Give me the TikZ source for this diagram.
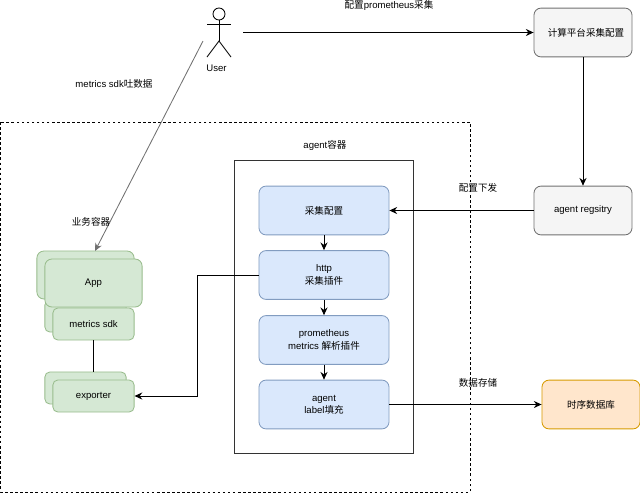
\documentclass[tikz,border=0pt]{standalone}
\usepackage{fontspec}
\setmainfont{Liberation Sans}
\newfontfamily\cjk{Noto Sans CJK SC}
\newcommand{\cn}[1]{{\cjk #1}}
\usetikzlibrary{arrows.meta}
\definecolor{bluefill}{HTML}{DAE8FC}
\definecolor{blueline}{HTML}{829CC0}
\definecolor{greenfill}{HTML}{D5E8D4}
\definecolor{greenline}{HTML}{98BC8C}
\definecolor{greyfill}{HTML}{F5F5F5}
\definecolor{greyline}{HTML}{707070}
\definecolor{orangefill}{HTML}{FFE6CC}
\definecolor{orangeline}{HTML}{D79B00}
\tikzset{
	every node/.style={font=\fontsize{6.8}{8.8}\selectfont,align=center,inner sep=0pt},
	box/.style={draw,rounded corners=5pt,line width=.6pt,minimum width=3.25cm,minimum height=1.22cm},
	blue box/.style={box,fill=bluefill,draw=blueline},
	grey box/.style={box,fill=greyfill,draw=greyline,minimum width=2.45cm},
	orange box/.style={box,fill=orangefill,draw=orangeline,minimum width=2.45cm},
	app box/.style={box,fill=greenfill,draw=greenline,minimum width=2.43cm,minimum height=1.2cm},
	sdk box/.style={box,fill=greenfill,draw=greenline,rounded corners=3.5pt,minimum width=2.03cm,minimum height=.8cm},
	link/.style={line width=.6pt,-{Stealth[length=5.5pt,width=5pt]}}
}
\begin{document}
\begin{tikzpicture}[x=0.025cm,y=-0.025cm]
	\useasboundingbox (0,0) rectangle (640,494);
	
	\draw[dash pattern=on 1.8pt off 1.8pt,line width=.5pt] (0.5,122) rectangle (470,492);
	\node[draw=black!80,line width=.7pt,minimum width=4.45cm,minimum height=7.3cm] (Agent) at (324,307) {};
	
	% user
	\node[circle,draw,line width=.6pt,minimum size=.3cm] (Head) at (219,14) {};
	\coordinate (Neck) at (219,41);
	\coordinate (ArmL) at (207,24.5);
	\coordinate (ArmR) at (231,24.5);
	\coordinate (LegL) at (207,57);
	\coordinate (LegR) at (231,57);
	\draw[line width=.6pt] (Head) -- (Neck);
	\draw[line width=.6pt] (ArmL) -- (ArmR);
	\draw[line width=.6pt] (LegL) -- (Neck) -- (LegR);
	\node (User) at (216.5,68) {User};
	\coordinate (UserOut) at (243,32.5);
	\coordinate (UserApp) at (203,41);
	
	% right side
	\node[grey box] (Conf) at (583,32.5) {\hspace{.15cm}\cn{计算平台采集配置}};
	\node[grey box] (Reg) at (583,210.5) {agent regsitry};
	\node[orange box] (DB) at (591,404.5) {\cn{时序数据库}};
	
	% agent plugins
	\node[blue box] (P1) at (324,210.5) {\cn{采集配置}};
	\node[blue box] (P2) at (324,275) {http\\\cn{采集插件}};
	\node[blue box] (P3) at (324,340) {prometheus\\metrics \cn{解析插件}};
	\node[blue box] (P4) at (324,404.5) {agent\\label\cn{填充}};
	
	% business container
	\node[app box] (AppB) at (85.5,275) {};
	\node[sdk box] (SdkB) at (85.5,316) {};
	\node[sdk box] (SdkF) at (93.5,324) {metrics sdk};
	\node[app box] (AppF) at (93.5,283) {App};
	\node[sdk box] (ExpB) at (85.5,388) {};
	\node[sdk box] (ExpF) at (93.5,396) {exporter};
	
	\draw[link] (UserOut) -- (Conf);
	\draw[link,draw=greyline] (UserApp) -- (95,251);
	\draw[link] (Conf) -- (Reg);
	\draw[link] (Reg) -- (P1);
	\draw[link] (P1) -- (P2);
	\draw[link] (P2) -- (P3);
	\draw[link] (P3) -- (P4);
	\draw[link] (P4) -- (DB);
	\draw[link] (P2.west) -- (197,275) -- (197,396) -- (ExpF.east);
	\draw[line width=.6pt] (SdkF.south) -- (SdkF.south |- ExpB.north);
	
	% labels
	\node (L1) at (389,5) {\cn{配置}prometheus\cn{采集}};
	\node (L2) at (114,84) {metrics sdk\cn{吐数据}};
	\node (L3) at (91,222) {\cn{业务容器}};
	\node (L4) at (325,145) {agent\cn{容器}};
	\node (L5) at (478,188) {\cn{配置下发}};
	\node (L6) at (478,383) {\cn{数据存储}};
	
\end{tikzpicture}
\end{document}
